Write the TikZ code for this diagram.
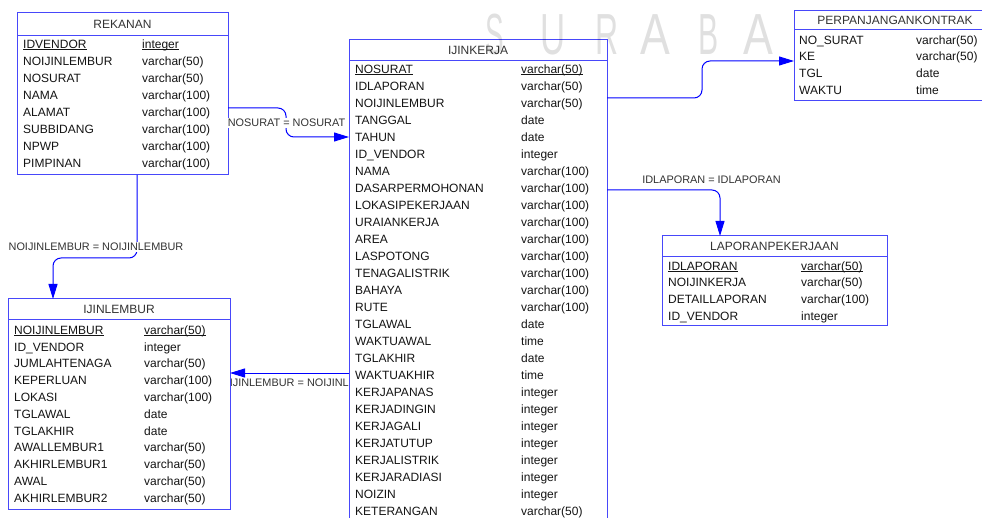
\documentclass[tikz,border=0pt]{standalone}
\usepackage{fontspec}
\setmainfont{Liberation Sans}
\usetikzlibrary{arrows.meta}

\definecolor{boxblue}{RGB}{72,72,250}
\definecolor{linkblue}{RGB}{0,0,255}
\definecolor{inkgray}{RGB}{20,20,20}

\pgfdeclarelayer{under}
\pgfsetlayers{under,main}

\tikzset{
  tablebox/.style={draw=boxblue, fill=white, line width=1pt, inner sep=0pt, outer sep=0pt, anchor=north west},
  headrule/.style={draw=boxblue, line width=1pt},
  titletext/.style={anchor=base, inner sep=0pt, text=black!80, font=\fontsize{12}{14}\selectfont},
  fieldtext/.style={anchor=base west, inner sep=0pt, text=inkgray, font=\fontsize{12}{14}\selectfont},
  link/.style={draw=linkblue, line width=1pt, rounded corners=8pt, -{Triangle[length=15pt,width=9pt]}},
  relabel/.style={inner sep=1.5pt, fill=white, text=black!80, font=\fontsize{10.9}{12}\selectfont},
  watermark/.style={inner sep=0pt, text=black, text opacity=0.12, font=\fontsize{58}{58}\selectfont},
}

% primary key: underlined text
\newcommand\keyul[1]{\setbox0=\hbox{#1}\rlap{\rule[-1.8pt]{\wd0}{0.8pt}}\box0}

% table frame: name, title, x1, y1, x2, y2, y of the rule under the title
\newcommand\erdbox[7]{%
  \node[tablebox, minimum width={(#5-#3)*1pt}, minimum height={(#6-#4)*1pt}] (#1) at (#3,#4) {};
  \draw[headrule] (#3,#7) -- (#5,#7);
  \node[titletext] (#1-title) at ({(#3+#5)/2},{(#4+#7)/2+4.3}) {#2};
}

% table columns: prefix, x of names, x of types, y of first row, row step, rows
\newcommand\erdrows[6]{%
  \foreach \fname/\ftype [count=\k from 0] in {#6} {
    \node[fieldtext] (#1-n\k) at (#2,{#4+\k*#5+4.3}) {\fname};
    \node[fieldtext] (#1-t\k) at (#3,{#4+\k*#5+4.3}) {\ftype};
  }
}

\begin{document}
\begin{tikzpicture}[x=1pt,y=-1pt]
\useasboundingbox (0,0) rectangle (982,518);
\begin{pgfonlayer}{under}
  \fill[white] (0,0) rectangle (982,518);
  \node[relabel, fill=none] (rel-lembur-k) at (300.8,383) {NOIJINLEMBUR = NOIJINLEMBUR};
\end{pgfonlayer}

% REKANAN
\erdbox{rekanan}{REKANAN}{17}{13}{228}{175}{36}
\erdrows{rk}{23}{142}{44}{17}{\keyul{IDVENDOR}/\keyul{integer},
  NOIJINLEMBUR/varchar(50), NOSURAT/varchar(50), NAMA/varchar(100),
  ALAMAT/varchar(100), SUBBIDANG/varchar(100), NPWP/varchar(100), PIMPINAN/varchar(100)}

% IJINLEMBUR
\erdbox{ijinlembur}{IJINLEMBUR}{8}{299}{230}{509}{320}
\erdrows{il}{14}{144}{330}{16.8}{\keyul{NOIJINLEMBUR}/\keyul{varchar(50)},
  ID\_VENDOR/integer, JUMLAHTENAGA/varchar(50), KEPERLUAN/varchar(100),
  LOKASI/varchar(100), TGLAWAL/date, TGLAKHIR/date, AWALLEMBUR1/varchar(50),
  AKHIRLEMBUR1/varchar(50), AWAL/varchar(50), AKHIRLEMBUR2/varchar(50)}

% IJINKERJA
\erdbox{ijinkerja}{IJINKERJA}{349}{40}{607}{524}{61}
\erdrows{ik}{355}{521}{69}{17}{\keyul{NOSURAT}/\keyul{varchar(50)},
  IDLAPORAN/varchar(50), NOIJINLEMBUR/varchar(50), TANGGAL/date, TAHUN/date,
  ID\_VENDOR/integer, NAMA/varchar(100), DASARPERMOHONAN/varchar(100),
  LOKASIPEKERJAAN/varchar(100), URAIANKERJA/varchar(100), AREA/varchar(100),
  LASPOTONG/varchar(100), TENAGALISTRIK/varchar(100), BAHAYA/varchar(100),
  RUTE/varchar(100), TGLAWAL/date, WAKTUAWAL/time, TGLAKHIR/date,
  WAKTUAKHIR/time, KERJAPANAS/integer, KERJADINGIN/integer, KERJAGALI/integer,
  KERJATUTUP/integer, KERJALISTRIK/integer, KERJARADIASI/integer,
  NOIZIN/integer, KETERANGAN/varchar(50)}

% faint lettering across the top
\foreach \ch/\cx/\sx [count=\w] in {S/495/0.48, U/553/0.6, R/607.5/0.55, A/655/0.77,
    B/708.5/0.52, A/758/0.77} {
  \node[watermark] (wm\w) at (\cx,35) {\scalebox{\sx}[1]{\ch}};
}

% PERPANJANGANKONTRAK
\erdbox{kontrak}{PERPANJANGANKONTRAK}{794}{11}{996}{101}{30}
\erdrows{pk}{799}{916}{40}{16.7}{NO\_SURAT/varchar(50), KE/varchar(50), TGL/date, WAKTU/time}

% LAPORANPEKERJAAN
\erdbox{laporan}{LAPORANPEKERJAAN}{662}{236}{887}{326}{257}
\erdrows{lp}{668}{801}{266}{16.7}{\keyul{IDLAPORAN}/\keyul{varchar(50)},
  NOIJINKERJA/varchar(50), DETAILLAPORAN/varchar(100), ID\_VENDOR/integer}

% relationships
\draw[link] (rekanan.east |- 0,108) -- (286,108) -- (286,137) -- (ijinkerja.west |- 0,137);
\node[relabel] (rel-nosurat) at (286.5,123) {NOSURAT = NOSURAT};

\draw[link] (rekanan.south -| 137,0) -- (137,258) -- (53,258) -- (ijinlembur.north -| 53,0);
\node[relabel] (rel-lembur) at (96,247) {NOIJINLEMBUR = NOIJINLEMBUR};

\draw[link] (ijinkerja.west |- 0,373) -- (ijinlembur.east |- 0,373);

\draw[link] (ijinkerja.east |- 0,98) -- (702,98) -- (702,61) -- (kontrak.west |- 0,61);

\draw[link] (ijinkerja.east |- 0,190) -- (720,190) -- (laporan.north -| 720,0);
\node[relabel] (rel-laporan) at (711.5,180) {IDLAPORAN = IDLAPORAN};
\end{tikzpicture}
\end{document}
